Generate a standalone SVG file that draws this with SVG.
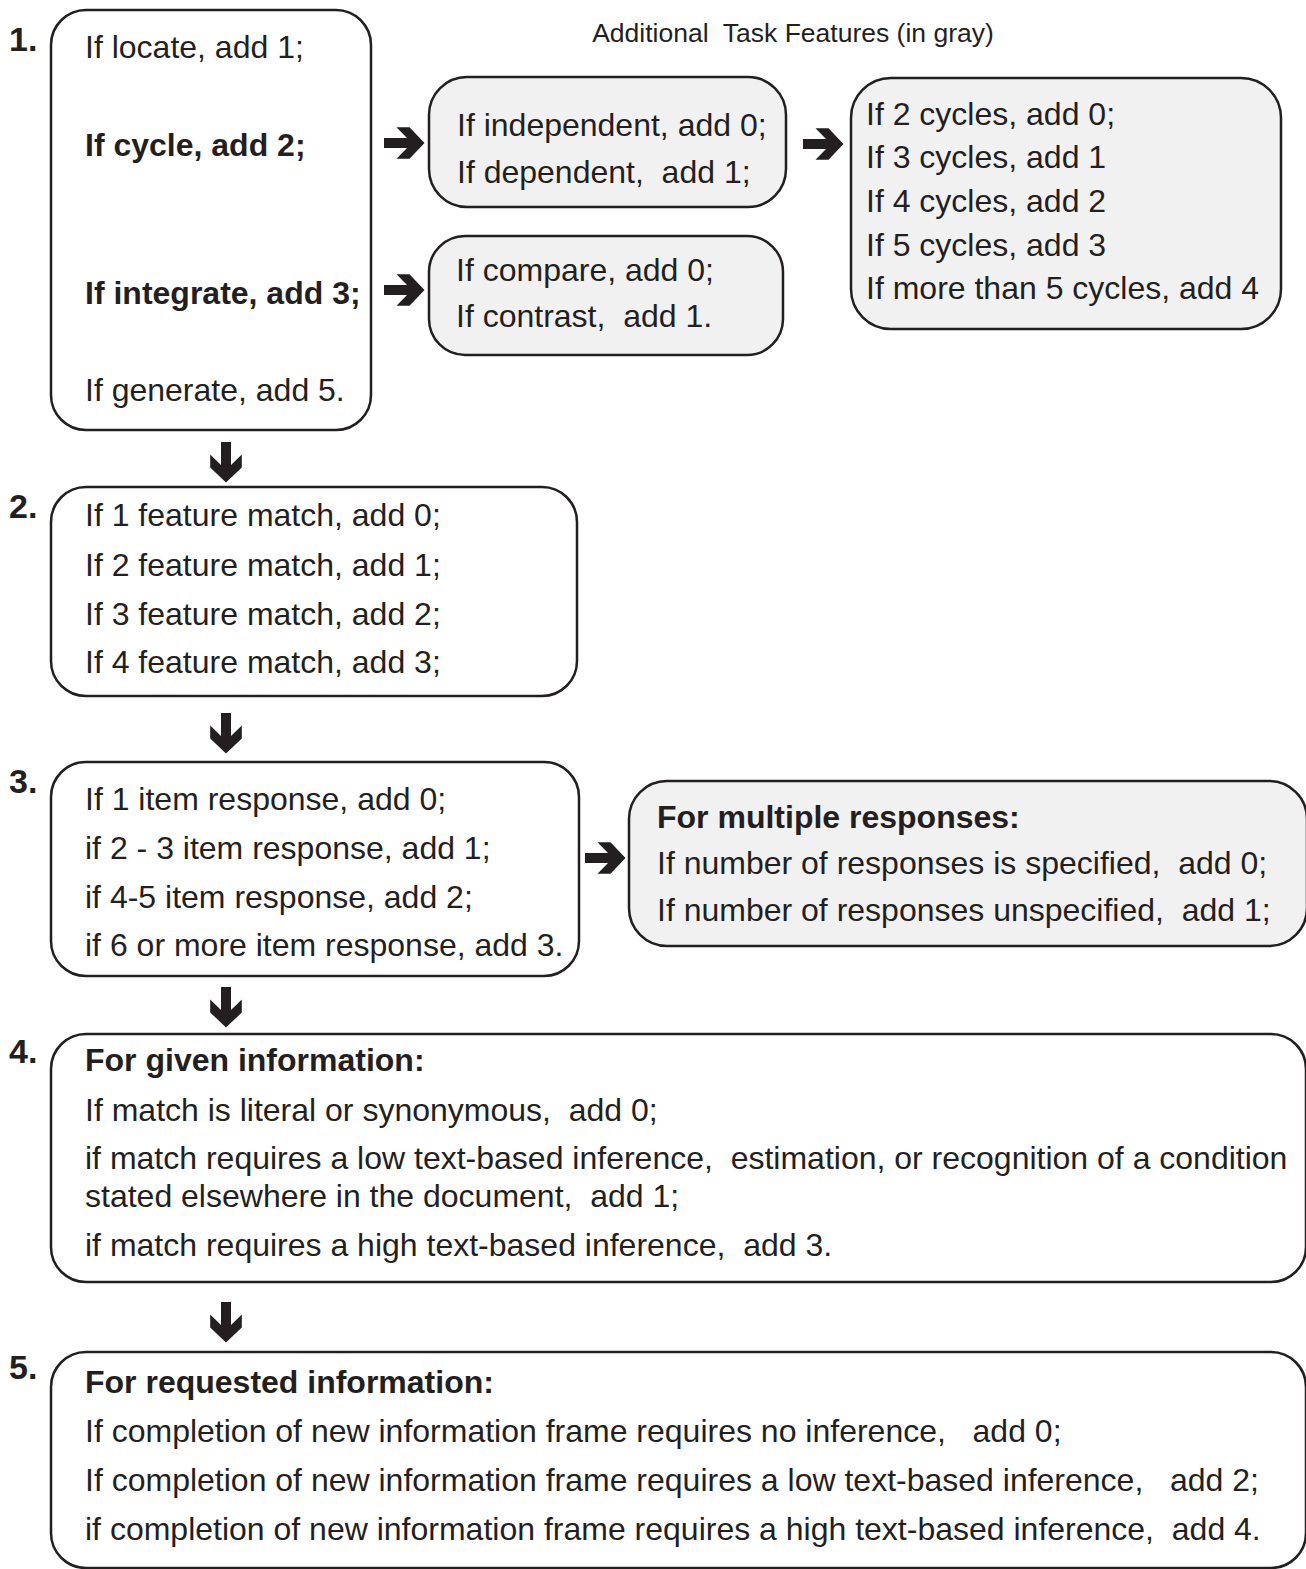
<svg xmlns="http://www.w3.org/2000/svg" width="1306" height="1569" viewBox="0 0 1306 1569">
<style>
text{font-family:"Liberation Sans",Arial,sans-serif;font-size:32px;fill:#231f20;white-space:pre}
.b{font-weight:bold}
.num{font-weight:bold;font-size:34px}
.title{font-size:26.5px;text-anchor:middle}
.box{fill:#fff;stroke:#231f20;stroke-width:2.5}
.gray{fill:#f1f1f1;stroke:#231f20;stroke-width:2.5}
.arr{fill:#231f20}
</style>
<defs>
<path id="ar" d="M-20,-5 L3,-5 L-7.5,-15.8 L5.5,-15.8 L20.5,0 L5.5,15.8 L-7.5,15.8 L3,5 L-20,5 Z"/>
</defs>
<rect width="1306" height="1569" fill="#fff"/>
<text class="title" x="793" y="42">Additional  Task Features (in gray)</text>
<g id="numbers">
<text class="num" x="9" y="51">1.</text>
<text class="num" x="9" y="518">2.</text>
<text class="num" x="9" y="793">3.</text>
<text class="num" x="9" y="1063">4.</text>
<text class="num" x="9" y="1379">5.</text>
</g>
<g id="n1">
<rect class="box" x="51" y="10" width="320" height="420" rx="35"/>
<text x="85" y="58">If locate, add 1;</text>
<text class="b" x="85" y="156">If cycle, add 2;</text>
<text class="b" x="85" y="304">If integrate, add 3;</text>
<text x="85" y="401">If generate, add 5.</text>
</g>
<g id="n1a">
<rect class="gray" x="429" y="77" width="357" height="130" rx="38"/>
<text x="457" y="136">If independent, add 0;</text>
<text x="457" y="183">If dependent,  add 1;</text>
</g>
<g id="n1b">
<rect class="gray" x="429" y="236" width="354" height="119" rx="36"/>
<text x="456" y="281">If compare, add 0;</text>
<text x="456" y="327">If contrast,  add 1.</text>
</g>
<g id="n1c">
<rect class="gray" x="851" y="78" width="430" height="251" rx="40"/>
<text x="866" y="125">If 2 cycles, add 0;</text>
<text x="866" y="168">If 3 cycles, add 1</text>
<text x="866" y="212">If 4 cycles, add 2</text>
<text x="866" y="256">If 5 cycles, add 3</text>
<text x="866" y="299">If more than 5 cycles, add 4</text>
</g>
<g id="n2">
<rect class="box" x="51" y="487" width="526" height="209" rx="35"/>
<text x="85" y="526">If 1 feature match, add 0;</text>
<text x="85" y="576">If 2 feature match, add 1;</text>
<text x="85" y="625">If 3 feature match, add 2;</text>
<text x="85" y="673">If 4 feature match, add 3;</text>
</g>
<g id="n3">
<rect class="box" x="51" y="762" width="528" height="214" rx="35"/>
<text x="85" y="810">If 1 item response, add 0;</text>
<text x="85" y="859">if 2 - 3 item response, add 1;</text>
<text x="85" y="908">if 4-5 item response, add 2;</text>
<text x="85" y="956">if 6 or more item response, add 3.</text>
</g>
<g id="n3a">
<rect class="gray" x="629" y="781" width="678" height="165" rx="38"/>
<text class="b" x="657" y="828">For multiple responses:</text>
<text x="657" y="874">If number of responses is specified,  add 0;</text>
<text x="657" y="921">If number of responses unspecified,  add 1;</text>
</g>
<g id="n4">
<rect class="box" x="51" y="1034" width="1255" height="248" rx="35"/>
<text class="b" x="85" y="1071">For given information:</text>
<text x="85" y="1121">If match is literal or synonymous,  add 0;</text>
<text x="85" y="1169">if match requires a low text-based inference,  estimation, or recognition of a condition</text>
<text x="85" y="1207">stated elsewhere in the document,  add 1;</text>
<text x="85" y="1256">if match requires a high text-based inference,  add 3.</text>
</g>
<g id="n5">
<rect class="box" x="51" y="1352" width="1255" height="216" rx="35"/>
<text class="b" x="85" y="1393">For requested information:</text>
<text x="85" y="1442">If completion of new information frame requires no inference,   add 0;</text>
<text x="85" y="1491">If completion of new information frame requires a low text-based inference,   add 2;</text>
<text x="85" y="1540">if completion of new information frame requires a high text-based inference,  add 4.</text>
</g>
<g id="connectors" class="arr">
<use href="#ar" transform="translate(404,143)"/>
<use href="#ar" transform="translate(404,290)"/>
<use href="#ar" transform="translate(823,144)"/>
<use href="#ar" transform="translate(605,858)"/>
<use href="#ar" transform="translate(226,462) rotate(90)"/>
<use href="#ar" transform="translate(226,733) rotate(90)"/>
<use href="#ar" transform="translate(226,1007) rotate(90)"/>
<use href="#ar" transform="translate(226,1322) rotate(90)"/>
</g>
</svg>
